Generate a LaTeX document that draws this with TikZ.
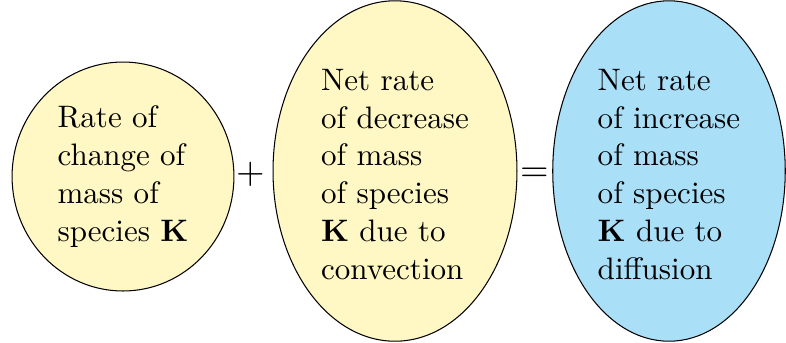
\documentclass[tikz,border=0pt]{standalone}
\usepackage{graphicx}
\usetikzlibrary{shapes.geometric}
\definecolor{ylw}{RGB}{255,248,197}
\definecolor{blu}{RGB}{170,223,248}
\newcommand{\bubtext}[1]{\scalebox{1.49}{\vbox{\fontsize{10pt}{12.2pt}\selectfont\halign{##\hfil\cr#1\crcr}}}}
\newcommand{\optext}[1]{\scalebox{1.76}{\fontsize{10pt}{12pt}\selectfont$#1$}}
\newcommand{\topstrut}{\rule{0pt}{9.05pt}}
\tikzset{
  bub/.style={ellipse, draw, line width=0.5pt, inner sep=0pt},
  op/.style={inner sep=0pt}}
\begin{document}
\begin{tikzpicture}[x=0.48pt,y=-0.48pt]
\useasboundingbox (0,0) rectangle (786,342);
\node[bub, fill=ylw, minimum width=106.5pt, minimum height=109.9pt] (a) at (123,176.5)
  {\bubtext{Rate of\cr change of\cr mass of\cr species \textbf{K}}};
\node[bub, fill=ylw, minimum width=117.1pt, minimum height=163.4pt] (b) at (395,171)
  {\bubtext{Net rate\topstrut\cr of decrease\cr of mass\cr of species\cr \textbf{K} due to\cr convection}};
\node[bub, fill=blu, minimum width=111.6pt, minimum height=163.4pt] (c) at (669,171)
  {\bubtext{Net rate\topstrut\cr of increase\cr of mass\cr of species\cr \textbf{K} due to\cr diffusion}};
\node[op] (plus) at (250.5,174) {\optext{+}};
\node[op] (eq) at (534.5,174.9) {\optext{=}};
\end{tikzpicture}
\end{document}
